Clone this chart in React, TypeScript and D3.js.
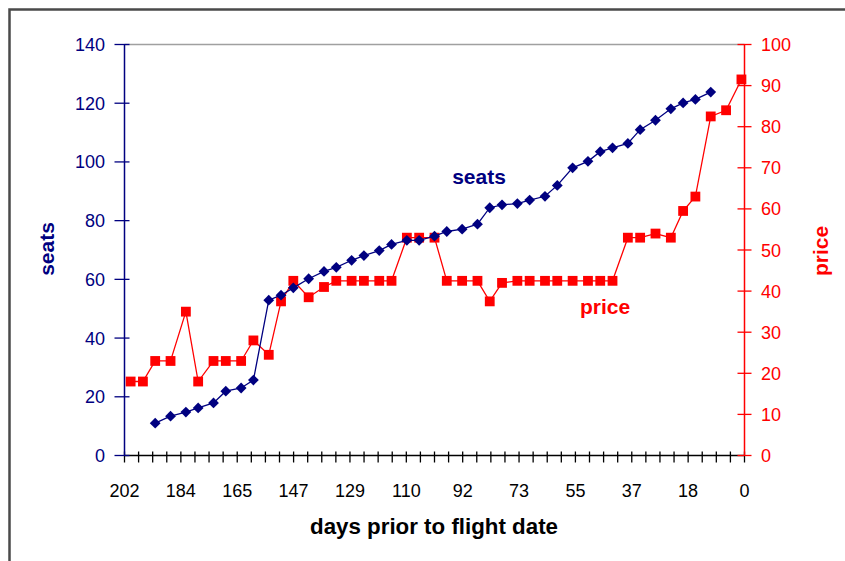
import React from "react";
import * as d3 from "d3";

// days prior to flight date for each observation
const days = [200,196,192,187,182,178,173,169,164,160,155,151,147,142,137,133,128,124,119,115,110,106,101,97,92,87,83,79,74,70,65,61,56,51,47,43,38,34,29,24,20,16,11,6,1];
// seats sold (left axis)
const seatValues: (number | null)[] = [null,null,11,13.4,14.8,16.2,17.9,21.9,23,25.7,52.9,54.6,57.1,60.2,62.7,64.1,66.5,68.1,69.8,71.9,73.3,73.3,74.7,76.3,77.1,78.8,84.4,85.4,85.8,87,88.3,92,98,100.2,103.5,104.8,106.3,111,114.2,118.1,120.1,121.3,123.8,null,null];
// price (right axis)
const priceValues = [18,18,23,23,35,18,23,23,23,28,24.5,37.5,42.5,38.5,41,42.5,42.5,42.5,42.5,42.5,53,53,53,42.5,42.5,42.5,37.5,42,42.5,42.5,42.5,42.5,42.5,42.5,42.5,42.5,53,53,54,53,59.5,63,82.5,84,91.5];

const seatTicks = [0,20,40,60,80,100,120,140];
const priceTicks = [0,10,20,30,40,50,60,70,80,90,100];
const xMax = 202;
const xMajorCount = 11;
const xMinorCount = 44;

const NAVY = "#000080";
const RED = "#ff0000";
const FONT = "Liberation Sans, Arial, sans-serif";

export default function App() {
  const left = 124.5, right = 744.5, top = 44.5, bottom = 455.5;
  const x = d3.scaleLinear().domain([xMax, 0]).range([left, right]);
  const yS = d3.scaleLinear().domain([0, 140]).range([bottom, top]);
  const yP = d3.scaleLinear().domain([0, 100]).range([bottom, top]);

  const seatPts = days.map((d, i) => ({ d, v: seatValues[i] })).filter(p => p.v != null) as { d: number; v: number }[];
  const pricePts = days.map((d, i) => ({ d, v: priceValues[i] }));

  const seatLine = d3.line<{ d: number; v: number }>().x(p => x(p.d)).y(p => yS(p.v))(seatPts) || "";
  const priceLine = d3.line<{ d: number; v: number }>().x(p => x(p.d)).y(p => yP(p.v))(pricePts) || "";

  const minorTicks = d3.range(xMinorCount + 1).map(k => (xMax * k) / xMinorCount);
  const majorTicks = d3.range(xMajorCount + 1).map(k => (xMax * k) / xMajorCount);

  const dm = 5.4; // diamond half-diagonal
  const sq = 4.9; // square half-size

  return (
    <svg width={845} height={561} style={{ position: "absolute", left: 0, top: 0, background: "#fff" }} fontFamily={FONT}>
      <rect x={0} y={0} width={845} height={561} fill="#fff" />
      {/* outer frame */}
      <rect x={9.5} y={9.5} width={900} height={600} fill="none" stroke="#4a4a4a" strokeWidth={2.5} />

      {/* plot top border */}
      <line x1={left} x2={right} y1={top} y2={top} stroke="#a0a0a0" strokeWidth={1.5} />

      {/* x axis */}
      <line x1={left} x2={right} y1={bottom} y2={bottom} stroke="#000" strokeWidth={1.5} />
      {minorTicks.map((t, i) => (
        <line key={"mt" + i} x1={x(t)} x2={x(t)} y1={bottom - 4} y2={bottom + 7} stroke="#000" strokeWidth={1.3} />
      ))}
      {majorTicks.map((t, i) => (
        <text key={"xl" + i} x={x(t)} y={497} textAnchor="middle" fontSize={18} fill="#000">
          {Math.round(t)}
        </text>
      ))}
      <text x={434} y={534} textAnchor="middle" fontSize={21.5} fontWeight="bold" fill="#000" textLength={248} lengthAdjust="spacingAndGlyphs">
        days prior to flight date
      </text>

      {/* left axis */}
      <line x1={left} x2={left} y1={top} y2={bottom} stroke={NAVY} strokeWidth={1.5} />
      {seatTicks.map(t => (
        <g key={"ls" + t}>
          <line x1={left - 10} x2={left + 5} y1={yS(t)} y2={yS(t)} stroke={NAVY} strokeWidth={1.3} />
          <text x={105} y={yS(t) + 6.5} textAnchor="end" fontSize={18} fill={NAVY}>{t}</text>
        </g>
      ))}
      <text transform={`translate(54,249) rotate(-90)`} textAnchor="middle" fontSize={21} fontWeight="bold" fill={NAVY}>seats</text>

      {/* right axis */}
      <line x1={right} x2={right} y1={top} y2={bottom} stroke={RED} strokeWidth={1.5} />
      {priceTicks.map(t => (
        <g key={"rp" + t}>
          <line x1={right - 7} x2={right + 7} y1={yP(t)} y2={yP(t)} stroke={RED} strokeWidth={1.3} />
          <text x={761} y={yP(t) + 6.5} textAnchor="start" fontSize={18} fill={RED}>{t}</text>
        </g>
      ))}
      <text transform={`translate(828,251) rotate(-90)`} textAnchor="middle" fontSize={21} fontWeight="bold" fill={RED}>price</text>

      {/* price series */}
      <path d={priceLine} fill="none" stroke={RED} strokeWidth={1.3} />
      {pricePts.map((p, i) => (
        <rect key={"p" + i} x={x(p.d) - sq} y={yP(p.v) - sq} width={sq * 2} height={sq * 2} fill={RED} />
      ))}

      {/* seats series */}
      <path d={seatLine} fill="none" stroke={NAVY} strokeWidth={1.3} />
      {seatPts.map((p, i) => {
        const cx = x(p.d), cy = yS(p.v);
        return (
          <path key={"s" + i} d={`M${cx},${cy - dm}L${cx + dm},${cy}L${cx},${cy + dm}L${cx - dm},${cy}Z`} fill={NAVY} />
        );
      })}

      {/* series labels */}
      <text x={479} y={184} textAnchor="middle" fontSize={21} fontWeight="bold" fill={NAVY}>seats</text>
      <text x={605} y={314} textAnchor="middle" fontSize={21} fontWeight="bold" fill={RED}>price</text>
    </svg>
  );
}
